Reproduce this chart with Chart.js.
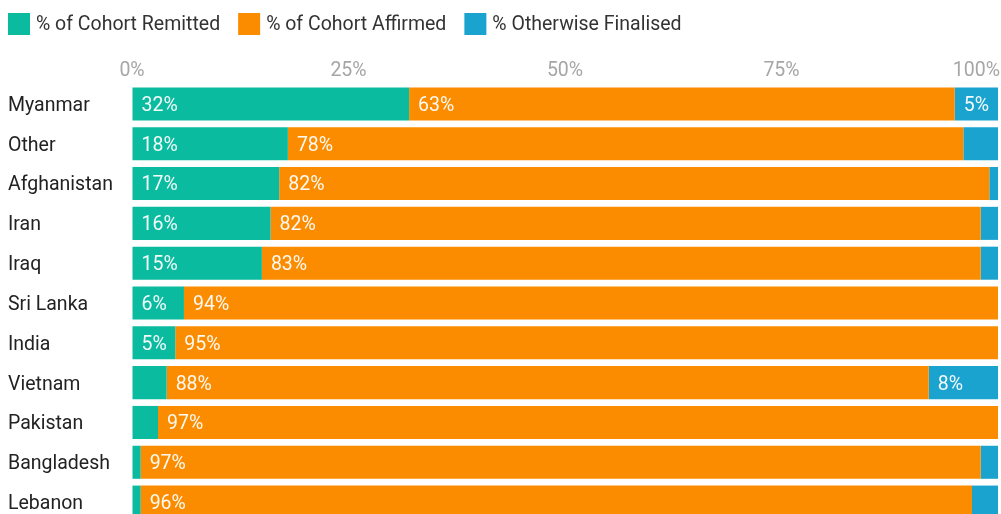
<!DOCTYPE html>
<html lang="en">
<head>
    <meta charset="UTF-8">
    <title>Cohort outcomes</title>
    <script src="https://cdn.jsdelivr.net/npm/chart.js@4.4.0/dist/chart.umd.min.js"></script>
    <style>
        body { margin: 0; overflow: hidden; background: #fff; }
        #wrap { width: 1001px; height: 530px; }
    </style>
</head>
<body>
    <div id="wrap">
        <canvas id="chart" width="1001" height="530"></canvas>
    </div>
    <script>
        const categories = ['Myanmar', 'Other', 'Afghanistan', 'Iran', 'Iraq', 'Sri Lanka', 'India', 'Vietnam', 'Pakistan', 'Bangladesh', 'Lebanon'];
        const remitted = [32, 18, 17, 16, 15, 6, 5, 4, 3, 1, 1];
        const affirmed = [63, 78, 82, 82, 83, 94, 95, 88, 97, 97, 96];
        const otherwise = [5, 4, 1, 2, 2, 0, 0, 8, 0, 2, 3];
        const seriesNames = ['% of Cohort Remitted', '% of Cohort Affirmed', '% Otherwise Finalised'];
        const tickValues = [0, 25, 50, 75, 100];

        const colors = ['#0bbba0', '#fb8c00', '#1aa3cf'];
        const FONT = 'Roboto';
        const SIZE = 19.5;

        // legend drawn by hand so it sits flush left like the original
        const legendPlugin = {
            id: 'topLegend',
            afterDraw(chart) {
                const ctx = chart.ctx;
                ctx.save();
                ctx.font = SIZE + 'px ' + FONT;
                ctx.textBaseline = 'middle';
                ctx.textAlign = 'left';
                let x = 8;
                chart.data.datasets.forEach(ds => {
                    ctx.fillStyle = ds.backgroundColor;
                    ctx.fillRect(x, 13, 22, 22);
                    ctx.fillStyle = '#333';
                    ctx.fillText(ds.label, x + 28, 25);
                    x += 28 + ctx.measureText(ds.label).width + 18;
                });
                ctx.restore();
            }
        };

        // x tick labels above the plot (last one kept inside the canvas) and category names
        const axisPlugin = {
            id: 'axisText',
            afterDraw(chart) {
                const ctx = chart.ctx;
                const sx = chart.scales.x;
                const sy = chart.scales.y;
                ctx.save();
                ctx.font = SIZE + 'px ' + FONT;
                ctx.textBaseline = 'middle';
                ctx.textAlign = 'left';
                ctx.fillStyle = '#a6a6a6';
                tickValues.forEach(v => {
                    const t = v + '%';
                    const w = ctx.measureText(t).width;
                    let px = sx.getPixelForValue(v) - w / 2;
                    if (px + w > chart.width - 1) px = chart.width - 1 - w;
                    ctx.fillText(t, px, 71);
                });
                ctx.fillStyle = '#222';
                categories.forEach((c, i) => {
                    ctx.fillText(c, 8, sy.getPixelForValue(i) + 2);
                });
                ctx.restore();
            }
        };

        // value labels inside the segments
        const valuePlugin = {
            id: 'values',
            afterDraw(chart) {
                const ctx = chart.ctx;
                ctx.save();
                ctx.font = SIZE + 'px ' + FONT;
                ctx.fillStyle = 'rgba(255,255,255,0.95)';
                ctx.textBaseline = 'middle';
                ctx.textAlign = 'left';
                chart.data.datasets.forEach((ds, i) => {
                    chart.getDatasetMeta(i).data.forEach((bar, j) => {
                        const v = ds.data[j];
                        if (v < 5) return;
                        const left = Math.min(bar.x, bar.base);
                        ctx.fillText(v + '%', left + 9, bar.y + 2);
                    });
                });
                ctx.restore();
            }
        };

        new Chart(document.getElementById('chart'), {
            type: 'bar',
            data: {
                labels: categories,
                datasets: [
                    { label: seriesNames[0], data: remitted, backgroundColor: colors[0] },
                    { label: seriesNames[1], data: affirmed, backgroundColor: colors[1] },
                    { label: seriesNames[2], data: otherwise, backgroundColor: colors[2] }
                ]
            },
            options: {
                indexAxis: 'y',
                responsive: false,
                animation: false,
                devicePixelRatio: 1,
                layout: { padding: { top: 84, right: 3, bottom: 8, left: 8 } },
                datasets: { bar: { barPercentage: 0.83, categoryPercentage: 1, borderWidth: 0 } },
                plugins: { legend: { display: false }, tooltip: { enabled: false } },
                scales: {
                    x: {
                        stacked: true,
                        min: 0,
                        max: 100,
                        z: 1,
                        position: 'top',
                        afterBuildTicks: s => { s.ticks = tickValues.map(v => ({ value: v })); },
                        afterFit: s => { s.height = 0; s.paddingLeft = 0; s.paddingRight = 0; },
                        ticks: { display: false },
                        grid: { color: 'rgba(255,255,255,0.4)', drawTicks: false },
                        border: { display: false }
                    },
                    y: {
                        stacked: true,
                        afterFit: s => { s.width = 124; },
                        grid: { display: false },
                        border: { display: false },
                        ticks: { display: false }
                    }
                }
            },
            plugins: [legendPlugin, axisPlugin, valuePlugin]
        });
    </script>
</body>
</html>
